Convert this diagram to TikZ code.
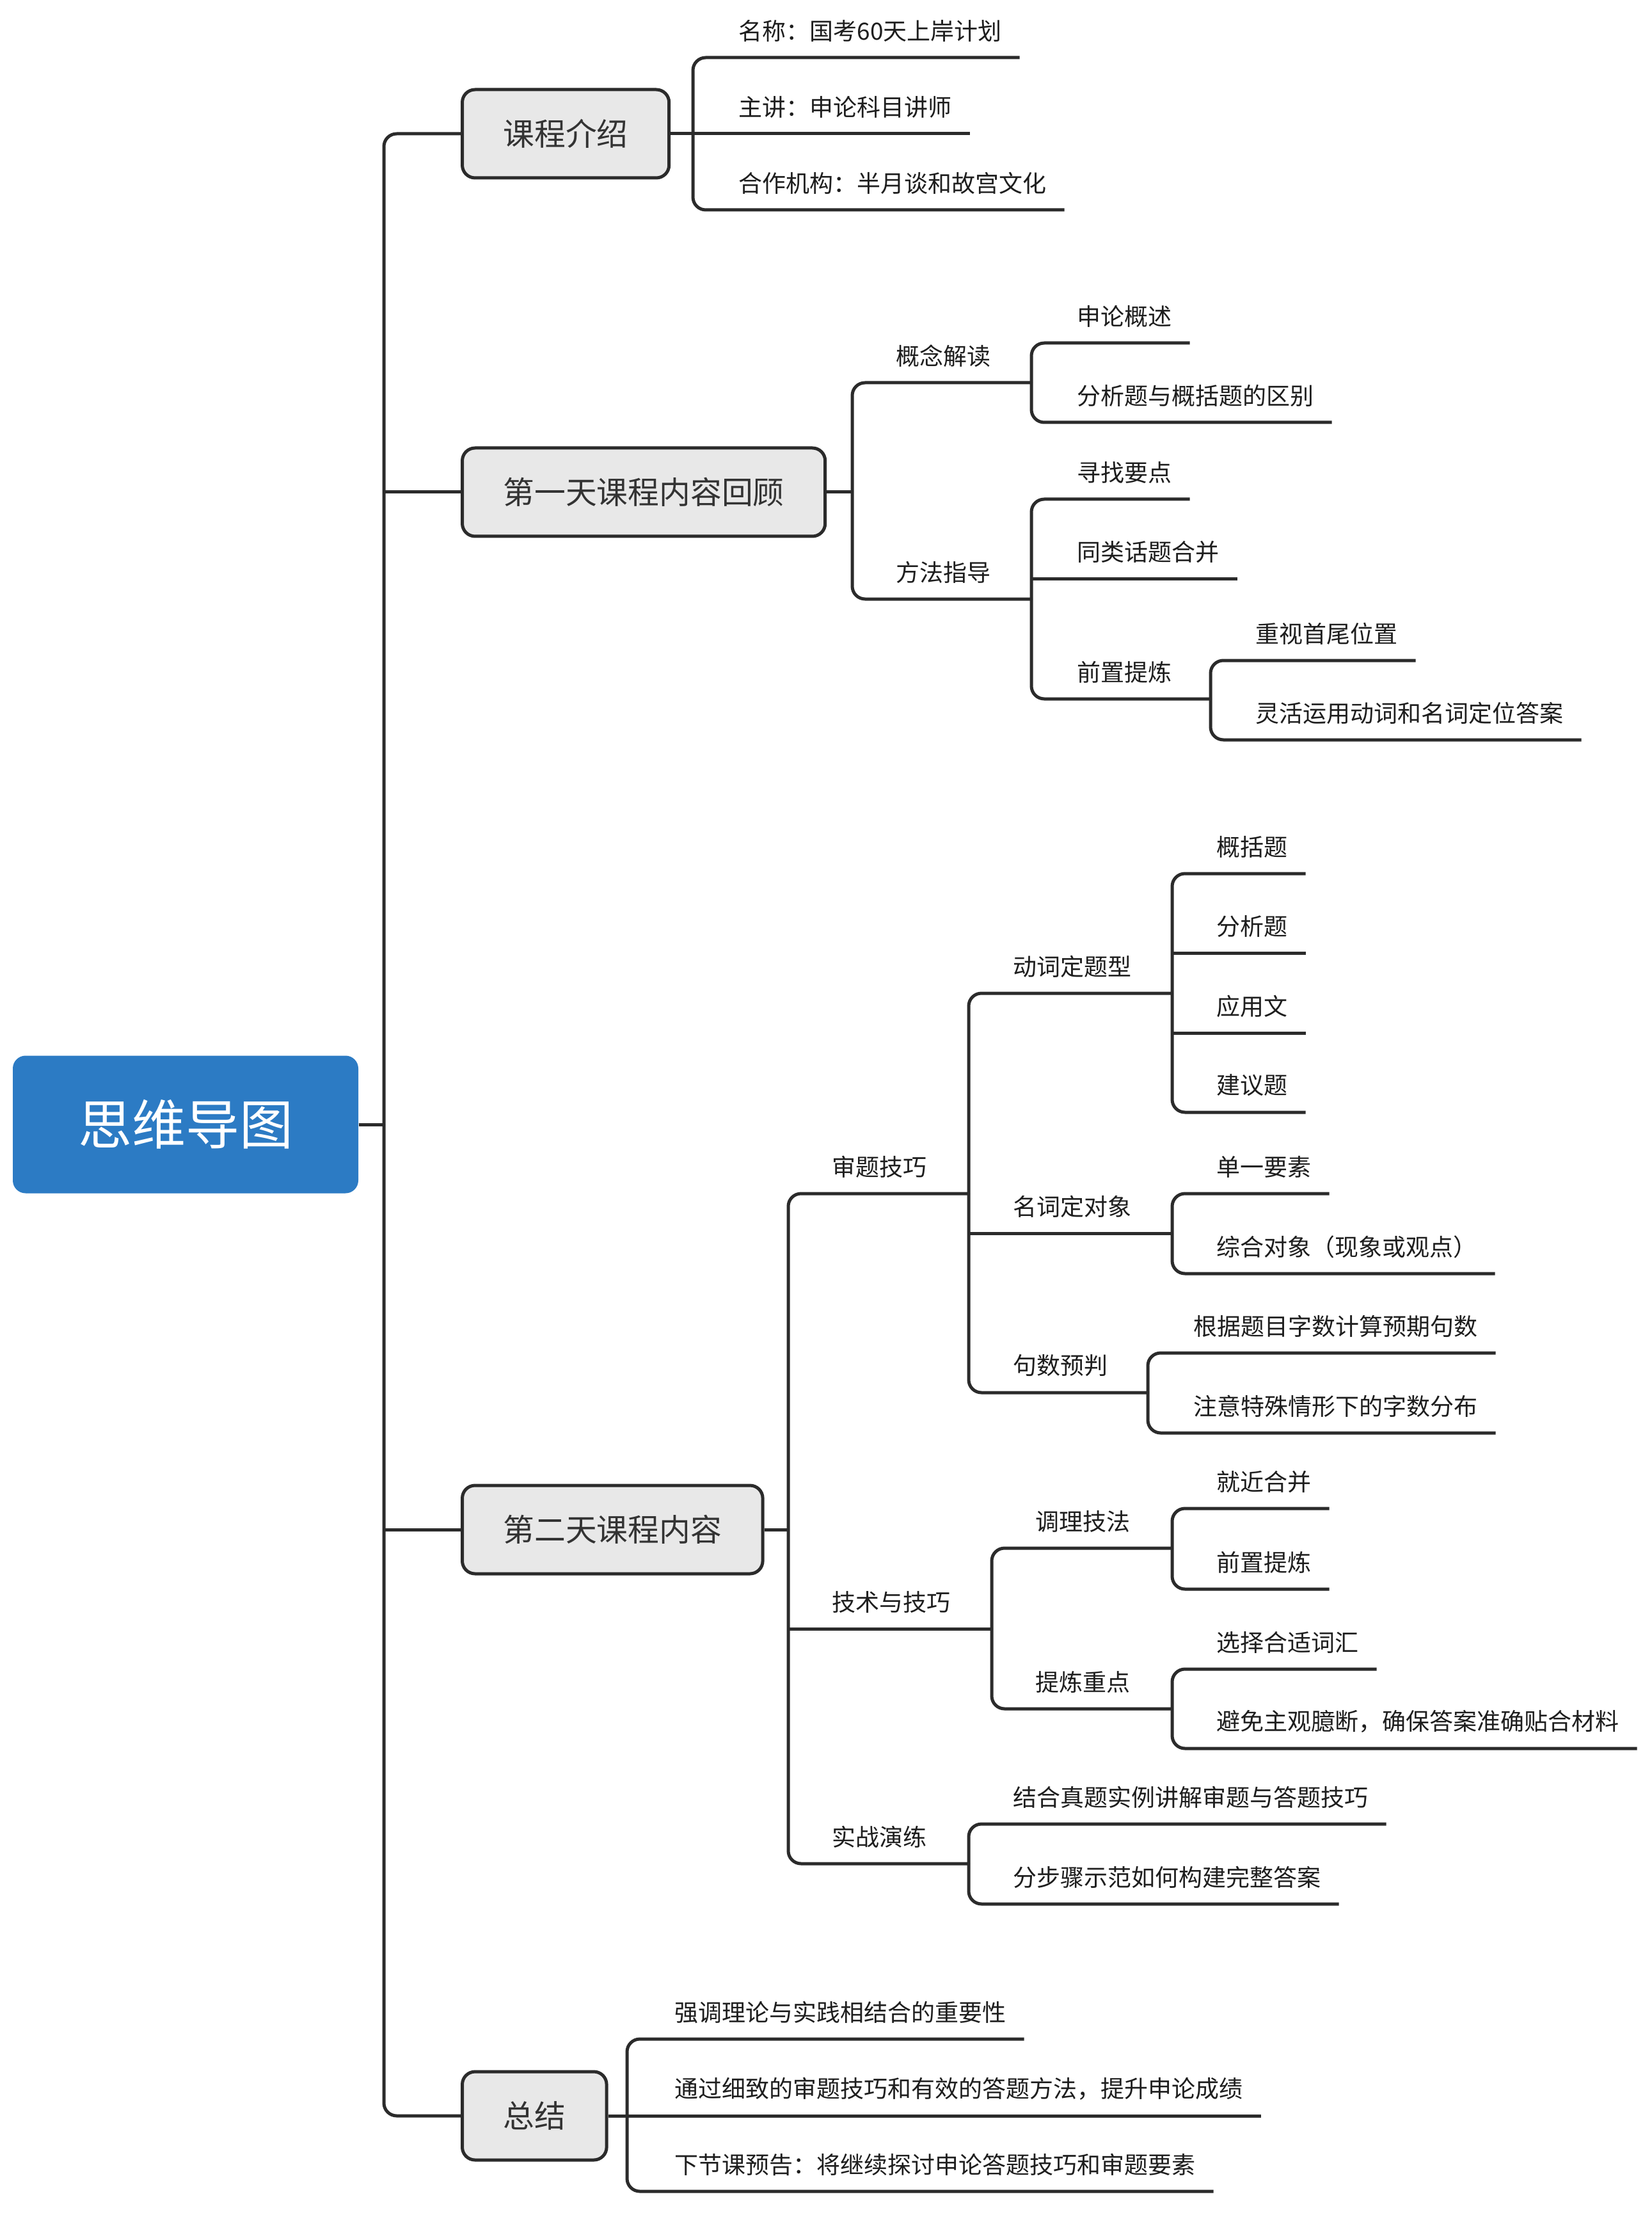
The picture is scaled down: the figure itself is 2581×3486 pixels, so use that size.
\documentclass[tikz,border=0pt]{standalone}
\usepackage{fontspec}
\setmainfont{Noto Sans CJK SC}
\usetikzlibrary{calc}
\definecolor{ln}{HTML}{2B2B2B}
\definecolor{boxtxt}{HTML}{333333}
\definecolor{rootblue}{HTML}{2C7BC4}
\definecolor{boxgray}{HTML}{E8E8E8}
\definecolor{txt}{HTML}{1E1E1E}
\begin{document}
\begin{tikzpicture}[x=0.25pt,y=-0.25pt,
 conn/.style={draw=ln, line width=1.25pt, rounded corners=5pt},
 rootbox/.style={fill=rootblue, rounded corners=5pt, text=white, font=\fontsize{21}{25}\selectfont, minimum width=135pt, minimum height=53.75pt, inner sep=0pt},
 mainbox/.style={draw=ln, fill=boxgray, line width=1.25pt, rounded corners=5pt, text=boxtxt, font=\fontsize{12.2}{14}\selectfont, minimum height=34.5pt, inner xsep=16pt, inner ysep=0pt, anchor=west},
 lbl/.style={anchor=west, inner sep=0pt, yshift=10.5pt, font=\fontsize{9.25}{11}\selectfont, text=txt},
]
\fill[white] (0,0) rectangle (2581,3486);
\useasboundingbox (0,0) rectangle (2581,3486);

% ---------- root and main branches ----------
\node[rootbox] (root) at (290,1757) {思维导图};
\coordinate (t) at (600,1757);
\coordinate (t2) at (600,769);
\coordinate (t3) at (600,2390);
\draw[conn] (root.east) -- (t);
\node[mainbox] (c1) at (720,209) {课程介绍};
\node[mainbox] (c2) at (720,769) {第一天课程内容回顾};
\node[mainbox] (c3) at (720,2390) {第二天课程内容};
\node[mainbox] (c4) at (720,3306) {总结};
\draw[conn] (t) |- (c1.west);
\draw[conn] (t) |- (c4.west);
\draw[conn] (t2) -- (c2.west);
\draw[conn] (t3) -- (c3.west);

% ---------- 课程介绍 ----------
\coordinate (b1) at (1083,209);
\draw[conn] (c1.east) -- (b1);
\node[lbl] (k11) at (1154,90) {名称：国考60天上岸计划};
\node[lbl] (k12) at (1154,209) {主讲：申论科目讲师};
\node[lbl] (k13) at (1154,328) {合作机构：半月谈和故宫文化};
\draw[conn] (b1) |- ($(k11.east)+(27,42)$);
\draw[conn] (b1) -- ($(k12.east)+(27,42)$);
\draw[conn] (b1) |- ($(k13.east)+(27,42)$);

% ---------- 第一天课程内容回顾 ----------
\coordinate (b2) at (1332,769);
\draw[conn] (c2.east) -- (b2);
\node[lbl] (k21) at (1400,598) {概念解读};
\node[lbl] (k22) at (1400,936) {方法指导};
\coordinate (b21) at (1612,598);
\coordinate (b22) at (1612,936);
\draw[conn] (b2) |- (b21);
\draw[conn] (b2) |- (b22);

\node[lbl] (k211) at (1683,536) {申论概述};
\node[lbl] (k212) at (1683,660) {分析题与概括题的区别};
\draw[conn] (b21) |- ($(k211.east)+(27,42)$);
\draw[conn] (b21) |- ($(k212.east)+(27,42)$);

\node[lbl] (k221) at (1683,780) {寻找要点};
\node[lbl] (k222) at (1683,905) {同类话题合并};
\node[lbl] (k223) at (1683,1092) {前置提炼};
\coordinate (m222) at (1612,905);
\coordinate (b223) at (1892,1092);
\draw[conn] (b22) |- ($(k221.east)+(27,42)$);
\draw[conn] (m222) -- ($(k222.east)+(27,42)$);
\draw[conn] (b22) |- (b223);

\node[lbl] (k2231) at (1962,1032) {重视首尾位置};
\node[lbl] (k2232) at (1962,1156) {灵活运用动词和名词定位答案};
\draw[conn] (b223) |- ($(k2231.east)+(27,42)$);
\draw[conn] (b223) |- ($(k2232.east)+(27,42)$);

% ---------- 第二天课程内容 ----------
\coordinate (b3) at (1232,2390);
\draw[conn] (c3.east) -- (b3);
\node[lbl] (k31) at (1300,1865) {审题技巧};
\node[lbl] (k32) at (1300,2545) {技术与技巧};
\node[lbl] (k33) at (1300,2912) {实战演练};
\coordinate (b31) at (1514,1865);
\coordinate (m32) at (1232,2545);
\coordinate (b32) at (1550,2545);
\coordinate (b33) at (1514,2912);
\draw[conn] (b3) |- (b31);
\draw[conn] (m32) -- (b32);
\draw[conn] (b3) |- (b33);

% 审题技巧
\node[lbl] (k311) at (1583,1552) {动词定题型};
\node[lbl] (k312) at (1583,1927) {名词定对象};
\node[lbl] (k313) at (1583,2176) {句数预判};
\coordinate (m312) at (1514,1927);
\coordinate (b311) at (1832,1552);
\coordinate (b312) at (1832,1927);
\coordinate (b313) at (1794,2176);
\draw[conn] (b31) |- (b311);
\draw[conn] (m312) -- (b312);
\draw[conn] (b31) |- (b313);

\node[lbl] (k3111) at (1901,1365) {概括题};
\node[lbl] (k3112) at (1901,1489) {分析题};
\node[lbl] (k3113) at (1901,1614) {应用文};
\node[lbl] (k3114) at (1901,1738) {建议题};
\coordinate (m3112) at (1832,1489);
\coordinate (m3113) at (1832,1614);
\draw[conn] (b311) |- ($(k3111.east)+(27,42)$);
\draw[conn] (m3112) -- ($(k3112.east)+(27,42)$);
\draw[conn] (m3113) -- ($(k3113.east)+(27,42)$);
\draw[conn] (b311) |- ($(k3114.east)+(27,42)$);

\node[lbl] (k3121) at (1901,1865) {单一要素};
\node[lbl] (k3122) at (1901,1990) {综合对象（现象或观点）};
\draw[conn] (b312) |- ($(k3121.east)+(27,42)$);
\draw[conn] (b312) |- ($(k3122.east)+(27,42)$);

\node[lbl] (k3131) at (1865,2114) {根据题目字数计算预期句数};
\node[lbl] (k3132) at (1865,2239) {注意特殊情形下的字数分布};
\draw[conn] (b313) |- ($(k3131.east)+(27,42)$);
\draw[conn] (b313) |- ($(k3132.east)+(27,42)$);

% 技术与技巧
\node[lbl] (k321) at (1618,2419) {调理技法};
\node[lbl] (k322) at (1618,2670) {提炼重点};
\coordinate (b321) at (1832,2419);
\coordinate (b322) at (1832,2670);
\draw[conn] (b32) |- (b321);
\draw[conn] (b32) |- (b322);

\node[lbl] (k3211) at (1901,2357) {就近合并};
\node[lbl] (k3212) at (1901,2483) {前置提炼};
\draw[conn] (b321) |- ($(k3211.east)+(27,42)$);
\draw[conn] (b321) |- ($(k3212.east)+(27,42)$);

\node[lbl] (k3221) at (1901,2608) {选择合适词汇};
\node[lbl] (k3222) at (1901,2732) {避免主观臆断，确保答案准确贴合材料};
\draw[conn] (b322) |- ($(k3221.east)+(27,42)$);
\draw[conn] (b322) |- ($(k3222.east)+(27,42)$);

% 实战演练
\node[lbl] (k331) at (1583,2850) {结合真题实例讲解审题与答题技巧};
\node[lbl] (k332) at (1583,2975) {分步骤示范如何构建完整答案};
\draw[conn] (b33) |- ($(k331.east)+(27,42)$);
\draw[conn] (b33) |- ($(k332.east)+(27,42)$);

% ---------- 总结 ----------
\coordinate (b4) at (980,3306);
\draw[conn] (c4.east) -- (b4);
\node[lbl] (k41) at (1054,3186) {强调理论与实践相结合的重要性};
\node[lbl] (k42) at (1054,3306) {通过细致的审题技巧和有效的答题方法，提升申论成绩};
\node[lbl] (k43) at (1054,3424) {下节课预告：将继续探讨申论答题技巧和审题要素};
\draw[conn] (b4) |- ($(k41.east)+(27,42)$);
\draw[conn] (b4) -- ($(k42.east)+(27,42)$);
\draw[conn] (b4) |- ($(k43.east)+(27,42)$);
\end{tikzpicture}
\end{document}
